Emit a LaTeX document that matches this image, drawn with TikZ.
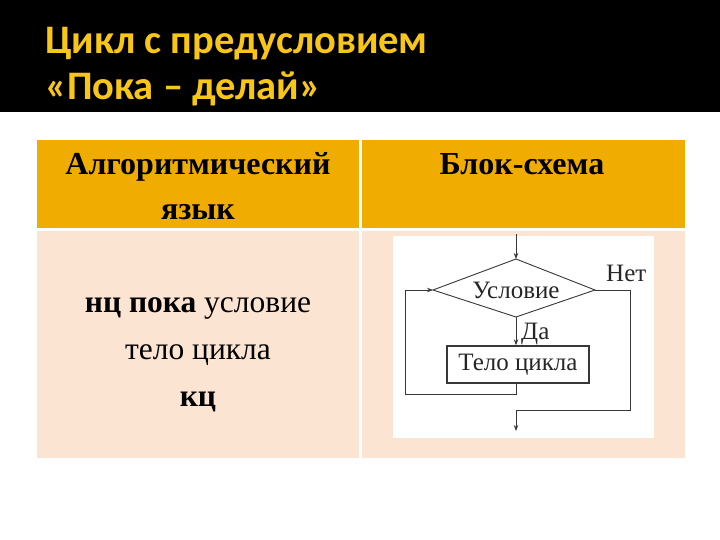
\documentclass[tikz,border=0pt]{standalone}
\usepackage{fontspec}
\setmainfont{Liberation Serif}
\newfontfamily\titlefont{Carlito}
\usetikzlibrary{arrows.meta}
\definecolor{titleyellow}{RGB}{248,198,22}
\definecolor{headorange}{RGB}{240,172,0}
\definecolor{bodypeach}{RGB}{252,228,210}
\definecolor{flowline}{RGB}{55,55,55}
\tikzset{
  titletext/.style={anchor=base west, text=titleyellow, font=\titlefont\bfseries\fontsize{40.5}{44}\selectfont, inner sep=0},
  headtext/.style={font=\bfseries\fontsize{32}{36}\selectfont, inner sep=0, anchor=base},
  celltext/.style={font=\fontsize{31.5}{36}\selectfont, inner sep=0, anchor=base},
  flowtext/.style={font=\fontsize{25}{28}\selectfont, inner sep=0, text=black!85},
  flowedge/.style={draw=flowline, line width=0.9pt},
  flowarrow/.style={flowedge, -{Stealth[length=6pt,width=4.5pt]}},
  procbox/.style={draw=flowline, line width=1.4pt, minimum width=142pt, minimum height=37pt, inner sep=0}
}
\begin{document}
\begin{tikzpicture}[x=1pt,y=-1pt]
\useasboundingbox (0,0) rectangle (720,540);
\fill[white] (0,0) rectangle (720,540);
% title band
\fill[black] (0,0) rectangle (720,112);
\node[titletext] (t1) at (45,54) {Цикл с предусловием};
\node[titletext] (t2) at (45,100) {«Пока – делай»};
% table
\fill[headorange] (37,140) rectangle (359,228);
\fill[headorange] (362,140) rectangle (685,228);
\fill[bodypeach] (37,231) rectangle (359,458);
\fill[bodypeach] (362,231) rectangle (685,458);
\node[headtext] (h1a) at (198,175) {Алгоритмический};
\node[headtext] (h1b) at (198,219) {язык};
\node[headtext] (h2) at (522,175) {Блок-схема};
\node[celltext] (c1) at (198,312) {\textbf{нц пока} условие};
\node[celltext] (c2) at (198,359) {тело цикла};
\node[celltext] (c3) at (198,406) {\textbf{кц}};
% flowchart
\fill[white] (393,236) rectangle (654,438);
\coordinate (in) at (516,234);
\coordinate (dT) at (516,259);
\coordinate (dL) at (433,290);
\coordinate (dR) at (595,290);
\coordinate (dB) at (516,317);
\draw[flowedge] (dT) -- (dR) -- (dB) -- (dL) -- cycle;
\node[flowtext] (cond) at (516,290) {Условие};
\node[procbox, flowtext] (body) at (518,364.5) {Тело цикла};
\node[flowtext, anchor=west] (no) at (606,273) {Нет};
\node[flowtext, anchor=west] (yes) at (521,334) {Да};
\coordinate (out) at (516,431);
\draw[flowarrow] (in) -- (dT);
\draw[flowarrow] (dB) -- (body.north -| dB);
\draw[flowarrow] (body.south -| dB) -- ++(0,11) -| (405,290) -- (dL);
\draw[flowarrow] (dR) -- (630,290) -- (630,410) -- (516,410) -- (out);
\end{tikzpicture}
\end{document}
